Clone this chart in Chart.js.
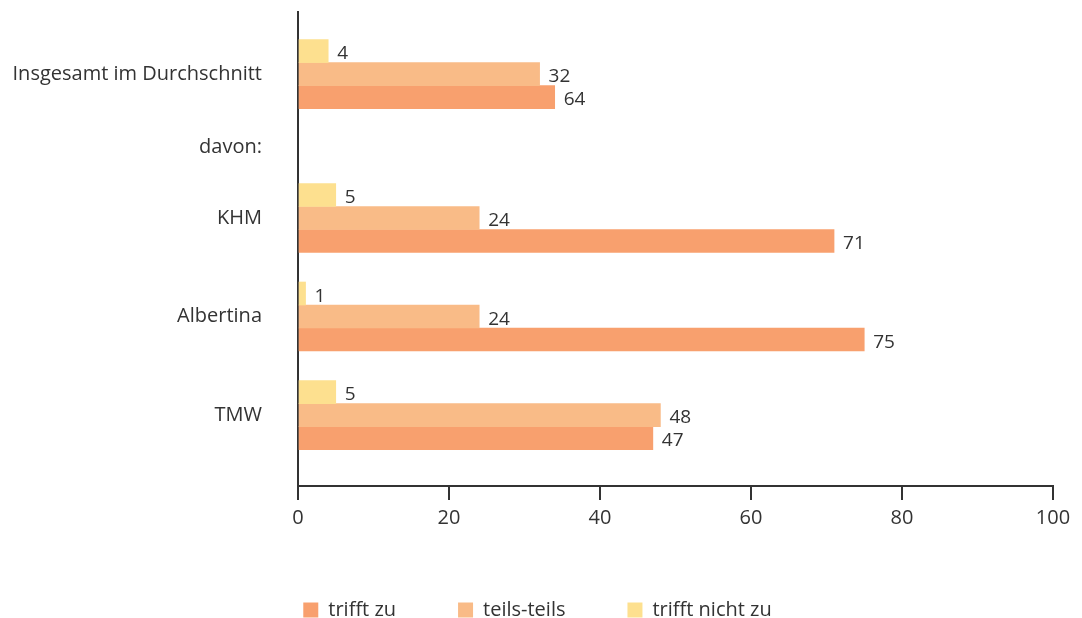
<!DOCTYPE html>
<html>
<head>
<meta charset="utf-8">
<script src="https://cdn.jsdelivr.net/npm/chart.js@4/dist/chart.umd.min.js"></script>
<style>
  html, body { margin: 0; padding: 0; background: #fff; }
  #wrap { width: 1082px; height: 618px; }
</style>
</head>
<body>
<div id="wrap"><canvas id="grafico"></canvas></div>
<script>
var rows = ['Insgesamt im Durchschnitt', 'davon:', 'KHM', 'Albertina', 'TMW'];
// slot of each row on the y scale ("davon:" sits between two groups)
var rowSlots = [0, 0.74, 1.46, 2.46, 3.46];

// bar lengths as drawn in the picture
var trifftZu = [34, null, 71, 75, 47];
var teilsTeils = [32, null, 24, 24, 48];
var trifftNichtZu = [4, null, 5, 1, 5];

// numbers printed next to the bars (the first "trifft zu" bar is printed 64)
var trifftZuText = [64, null, 71, 75, 47];
var teilsTeilsText = [32, null, 24, 24, 48];
var trifftNichtZuText = [4, null, 5, 1, 5];

var xTicks = [0, 20, 40, 60, 80, 100];

var fontName = '"Open Sans", sans-serif';
var inkColor = '#333333';

function punkte(valori) {
    var out = [];
    for (var i = 0; i < valori.length; i++) {
        out.push({ x: valori[i], y: rowSlots[i] });
    }
    return out;
}

// values written to the right of every bar
var etichette = {
    id: 'etichette',
    afterDatasetsDraw: function (chart) {
        var ctx = chart.ctx;
        ctx.save();
        ctx.font = '19px ' + fontName;
        ctx.fillStyle = inkColor;
        ctx.textAlign = 'left';
        ctx.textBaseline = 'middle';
        chart.data.datasets.forEach(function (ds, di) {
            var meta = chart.getDatasetMeta(di);
            meta.data.forEach(function (bar, i) {
                var t = ds.testi[i];
                if (t === null) return;
                ctx.fillText(String(t), bar.x + 9, bar.y + 3);
            });
        });
        ctx.restore();
    }
};

// legend: wide gaps between items but a fixed height
var legendaAltezza = {
    id: 'legendaAltezza',
    beforeInit: function (chart) {
        var fitOrig = chart.legend.fit;
        chart.legend.fit = function () {
            fitOrig.bind(chart.legend)();
            this.height = 80;
        };
    }
};

var ctx = document.getElementById('grafico');
var chart = new Chart(ctx, {
    type: 'bar',
    data: {
        datasets: [{
            label: 'trifft nicht zu',
            backgroundColor: '#FDE08F',
            data: punkte(trifftNichtZu),
            testi: trifftNichtZuText
        }, {
            label: 'teils-teils',
            backgroundColor: '#F9BB87',
            data: punkte(teilsTeils),
            testi: teilsTeilsText
        }, {
            label: 'trifft zu',
            backgroundColor: '#F8A06E',
            data: punkte(trifftZu),
            testi: trifftZuText
        }]
    },
    options: {
        indexAxis: 'y',
        responsive: true,
        maintainAspectRatio: false,
        animation: false,
        barThickness: 23,
        layout: { padding: { top: 12, right: 7, left: 0, bottom: 0 } },
        scales: {
            y: {
                type: 'linear',
                reverse: true,
                offset: false,
                min: -0.63,
                max: 4.18,
                afterBuildTicks: function (scale) {
                    scale.ticks = rowSlots.map(function (v) { return { value: v }; });
                },
                afterFit: function (scale) {
                    scale.width = 298;
                    scale.paddingTop = 0;
                    scale.paddingBottom = 0;
                },
                grid: { display: false, offset: false, drawTicks: true, tickLength: 36 },
                border: { display: true, color: inkColor, width: 2 },
                ticks: {
                    autoSkip: false,
                    padding: 0,
                    color: inkColor,
                    font: { family: fontName, size: 20 },
                    callback: function (value, index) { return rows[index]; }
                }
            },
            x: {
                type: 'linear',
                min: 0,
                max: 100,
                afterBuildTicks: function (scale) {
                    scale.ticks = xTicks.map(function (v) { return { value: v }; });
                },
                afterFit: function (scale) {
                    scale.height = 52;
                    scale.paddingRight = 29;
                },
                grid: {
                    display: true,
                    drawOnChartArea: false,
                    drawTicks: true,
                    tickLength: 14,
                    color: inkColor,
                    lineWidth: 2
                },
                border: { display: true, color: inkColor, width: 2 },
                ticks: {
                    padding: 6,
                    color: inkColor,
                    maxRotation: 0,
                    font: { family: fontName, size: 20 }
                }
            }
        },
        plugins: {
            legend: {
                position: 'bottom',
                labels: {
                    boxWidth: 15,
                    boxHeight: 15,
                    padding: 62,
                    color: inkColor,
                    font: { family: fontName, size: 20 },
                    sort: function (a, b) { return b.datasetIndex - a.datasetIndex; }
                }
            },
            tooltip: { enabled: false }
        }
    },
    plugins: [etichette, legendaAltezza]
});
</script>
</body>
</html>
